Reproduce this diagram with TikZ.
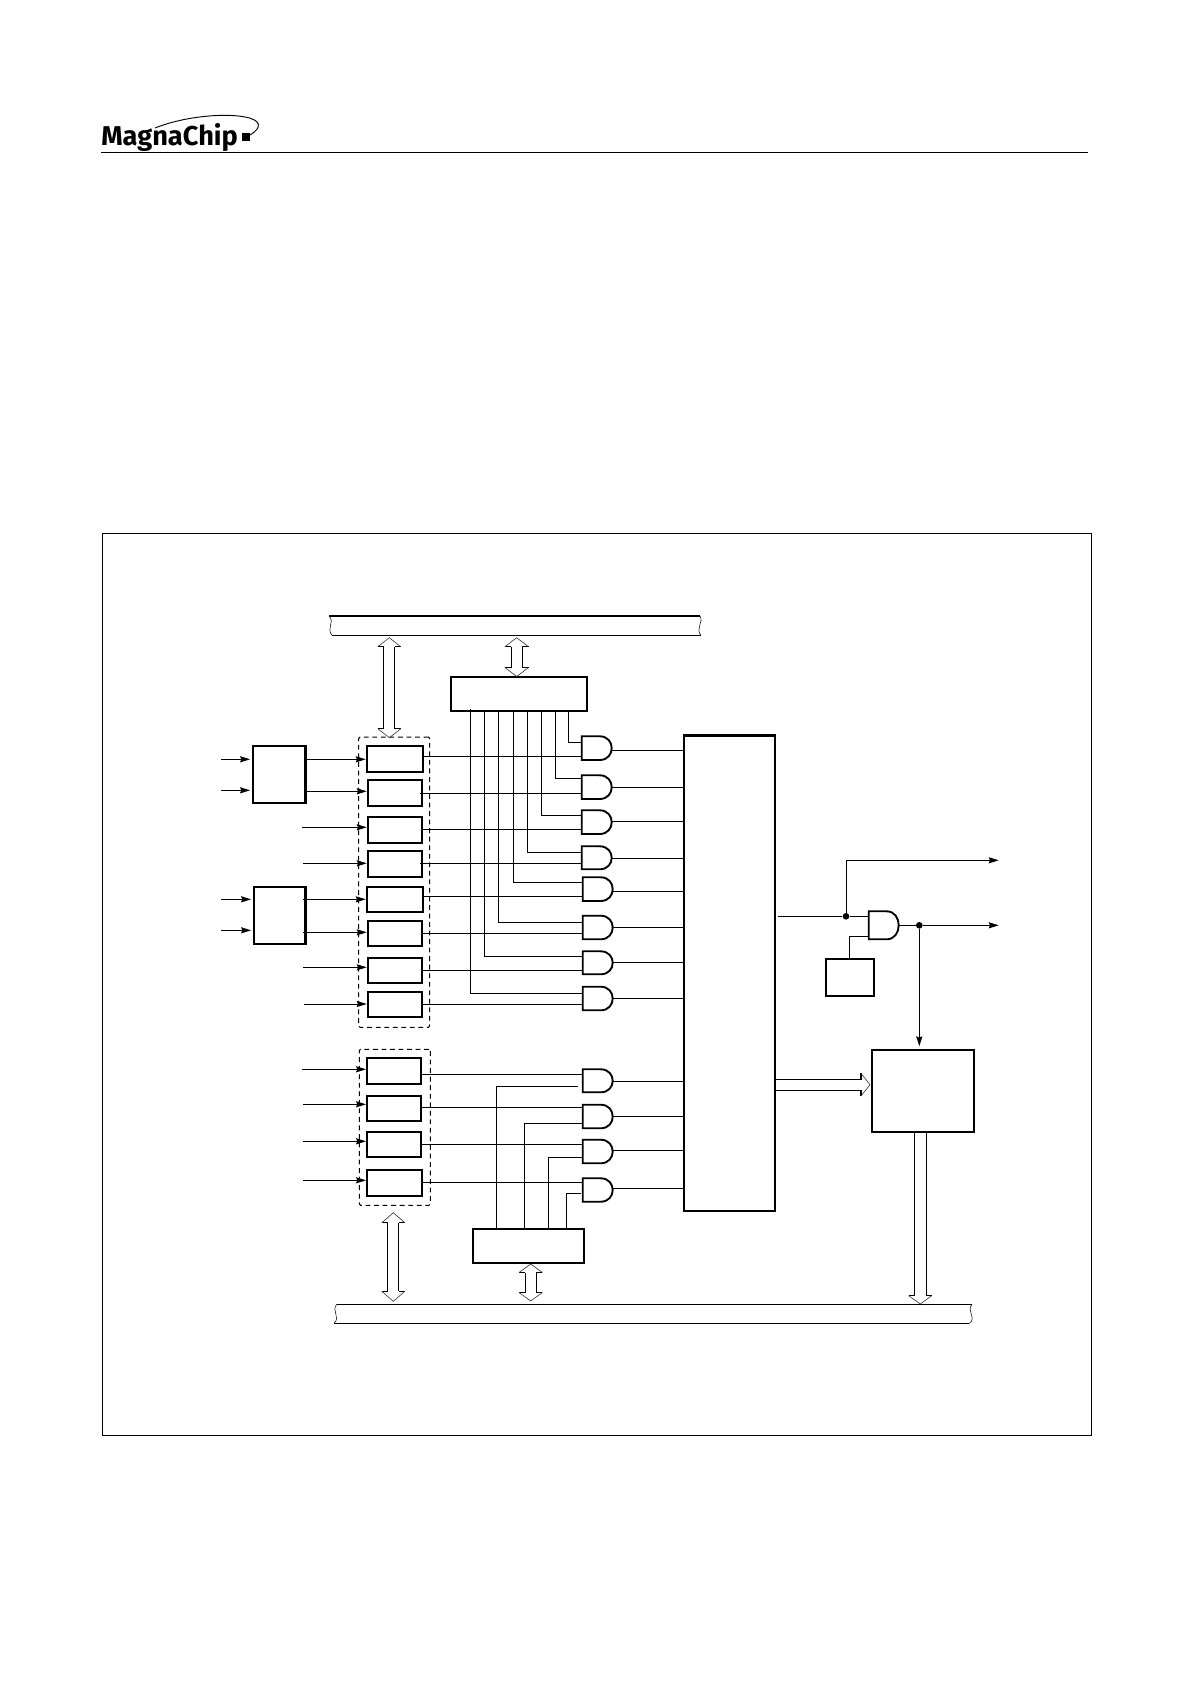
\documentclass[tikz,border=0pt]{standalone}
\usepackage{fontspec}
\setmainfont{Fira Sans}
\usetikzlibrary{arrows.meta,calc}
\tikzset{
  wire/.style={line width=0.75pt,black},
  arr/.style={wire,-{Stealth[length=7.5pt,width=4.6pt,inset=1pt]},shorten >=0.75pt},
  arrlong/.style={arr,shorten >=2pt},
  regbox/.style={draw,line width=1.5pt,inner sep=0pt,outer sep=0pt},
  srcbox/.style={draw,line width=1.8pt,inner sep=0pt,outer sep=0pt},
  gatebody/.style={draw,line width=1.4pt,line join=miter},
  groupbox/.style={draw,line width=0.75pt,dash pattern=on 3.6pt off 2.8pt,rounded corners=1pt,inner sep=0pt,outer sep=0pt},
  busline/.style={line width=0.8pt},
  busend/.style={line width=0.4pt},
  hollowshaft/.style={line width=0.85pt},
  hollowhead/.style={line width=0.45pt,black!80},
  junction/.style={circle,fill=black,inner sep=0pt,minimum size=5pt},
  framebox/.style={draw,line width=0.75pt,inner sep=0pt,outer sep=0pt},
}
% box from its corners, in picture units
\newcommand{\bx}[6]{\pgfmathsetmacro\bxw{(#5-#3)*0.75}\pgfmathsetmacro\bxh{(#6-#4)*0.75}%
  \node[#1,minimum width=\bxw pt,minimum height=\bxh pt,anchor=north west] (#2) at (#3,#4) {};}
% AND gate: name, xleft, ytop, ybottom, y input a, y input b, y output
\newcommand{\gate}[7]{\pgfmathsetmacro\gxm{#2+18}\pgfmathsetmacro\gxc{#2+34}\pgfmathsetmacro\gxr{#2+30}%
  \draw[gatebody] (#2,#3) -- (\gxm,#3) .. controls (\gxc,#3) and (\gxc,#4) .. (\gxm,#4) -- (#2,#4) -- cycle;
  \coordinate (#1a) at (#2,#5);\coordinate (#1b) at (#2,#6);\coordinate (#1o) at (\gxr,#7);}
% hollow vertical double arrow: top tip, bottom tip, head length, shaft half, head half
\newcommand{\hollowdbl}[5]{%
  \draw[hollowshaft] ($(#1)+(-#4,#3)$) -- ($(#2)+(-#4,-#3)$) ($(#1)+(#4,#3)$) -- ($(#2)+(#4,-#3)$)
    ($(#1)+(-#5,#3)$) -- ($(#1)+(-#4,#3)$) ($(#1)+(#5,#3)$) -- ($(#1)+(#4,#3)$)
    ($(#2)+(-#5,-#3)$) -- ($(#2)+(-#4,-#3)$) ($(#2)+(#5,-#3)$) -- ($(#2)+(#4,-#3)$);
  \draw[hollowhead] ($(#1)+(-#5,#3)$) -- (#1) -- ($(#1)+(#5,#3)$)
    ($(#2)+(-#5,-#3)$) -- (#2) -- ($(#2)+(#5,-#3)$);}
\begin{document}
\begin{tikzpicture}[x=0.75pt,y=-0.75pt]
\useasboundingbox (0,0) rectangle (1191,1685);
\fill[white] (0,0) rectangle (1191,1685);

% header
\coordinate (hl) at (101,152.3);
\coordinate (hr) at (1088,152.3);
\draw[line width=0.8pt] (hl) -- (hr);
\node[anchor=base west,inner sep=0pt,font=\fontsize{20.4pt}{21pt}\selectfont\bfseries] (logo) at (101,145.7) {MagnaChip};
\fill (241.7,132.7) rectangle (250,140.7);
\draw[line width=0.7pt] (155,128) .. controls (185,116) and (225,113) .. (245,117) .. controls (262,120) and (262,128) .. (250,135);

% frame
\bx{framebox}{frame}{102}{533}{1091.3}{1435}

% buses
\coordinate (tb1) at (329.3,616); \coordinate (tb2) at (700,616);
\coordinate (tb3) at (332,635.3); \coordinate (tb4) at (701,635.3);
\draw[busline] (tb1) -- (tb2) (tb3) -- (tb4);
\draw[busend] (tb1) .. controls (335,623) and (326,628) .. (tb3);
\draw[busend] (tb2) .. controls (704,622) and (695,629) .. (tb4);
\coordinate (bb1) at (336.7,1304.3); \coordinate (bb2) at (972,1304.3);
\coordinate (bb3) at (334,1323.3); \coordinate (bb4) at (969.3,1323.3);
\draw[busline] (bb1) -- (bb2) (bb3) -- (bb4);
\draw[busend] (bb1) .. controls (331,1311) and (341,1317) .. (bb3);
\draw[busend] (bb2) .. controls (966,1311) and (977,1318) .. (bb4);

% boxes
\bx{srcbox}{srcA}{252.7}{745.7}{305.3}{803}
\bx{srcbox}{srcB}{253.7}{887}{305.3}{944}
\bx{regbox}{tbox}{450.7}{677}{587.3}{711}
\bx{regbox}{bbox}{472.7}{1228.7}{584.3}{1263}
\bx{srcbox}{big}{684}{735.3}{775}{1211}
\bx{regbox}{small}{825.7}{958.7}{874.3}{996}
\bx{regbox}{out}{871.7}{1050}{974}{1132}

\bx{regbox}{r1}{366.7}{745.7}{423.3}{772}
\bx{regbox}{r2}{367.7}{780}{422.3}{806}
\bx{regbox}{r3}{367.7}{817}{422.3}{843}
\bx{regbox}{r4}{367.7}{850.7}{422.3}{876.7}
\bx{regbox}{r5}{366.7}{887}{423.3}{912}
\bx{regbox}{r6}{367.7}{921}{422.3}{946}
\bx{regbox}{r7}{367.7}{958}{422.3}{983}
\bx{regbox}{r8}{367.7}{992}{422.3}{1017}
\bx{regbox}{r9}{367}{1057.7}{421.3}{1084}
\bx{regbox}{r10}{367}{1096}{421.3}{1121}
\bx{regbox}{r11}{367}{1131.7}{421.3}{1157.3}
\bx{regbox}{r12}{367}{1170}{422.3}{1196}

\bx{groupbox}{grp1}{358.7}{737}{429.7}{1027.3}
\bx{groupbox}{grp2}{359.3}{1049.3}{430.3}{1205.3}

% gates
\gate{g1}{581.7}{736.3}{760}{742.3}{756.3}{750.3}
\gate{g2}{581.7}{775.3}{799}{778.3}{793.3}{787.3}
\gate{g3}{581.7}{810.3}{834}{815.3}{829.3}{821.3}
\gate{g4}{581.7}{846.3}{869.3}{852.3}{863.3}{858.3}
\gate{g5}{582.7}{877.3}{901}{882.3}{896.3}{891.3}
\gate{g6}{582.7}{915.7}{939.3}{922.3}{933.3}{927.3}
\gate{g7}{582.7}{951.3}{974.3}{956.3}{970.3}{962.3}
\gate{g8}{582.7}{986.7}{1010.3}{993.3}{1004.3}{998.3}
\gate{g9}{582.7}{1069.3}{1092.3}{1086.3}{1074.3}{1081.3}
\gate{g10}{582.7}{1104.7}{1128.3}{1123.3}{1107.3}{1116.3}
\gate{g11}{582.7}{1139.7}{1163.3}{1157.3}{1144.3}{1150.3}
\gate{g12}{582.7}{1178.3}{1201.7}{1193.3}{1182.3}{1188.3}
\gate{gx}{868.7}{911.3}{939.3}{916.3}{936.3}{925.3}

% source inputs
\foreach \n/\y in {ia1/759.3,ia2/790.3}{\coordinate (\n) at (221,\y); \draw[arrlong] (\n) -- (\n -| srcA.west);}
\foreach \n/\y in {ib1/899.3,ib2/930.3}{\coordinate (\n) at (221,\y); \draw[arrlong] (\n) -- (\n -| srcB.west);}

% source to register
\coordinate (sa1) at (305.3,759.3); \draw[arr] (sa1) -- (sa1 -| r1.west);
\coordinate (sa2) at (305.3,791.3); \draw[arr] (sa2) -- (sa2 -| r2.west);
\coordinate (sb1) at (303,899.3); \draw[arr] (sb1) -- (sb1 -| r5.west);
\coordinate (sb2) at (303,932.3); \draw[arr] (sb2) -- (sb2 -| r6.west);

% free inputs to registers
\coordinate (i3) at (302,827.3); \draw[arr] (i3) -- (i3 -| r3.west);
\coordinate (i4) at (303,863.3); \draw[arr] (i4) -- (i4 -| r4.west);
\coordinate (i7) at (303,967.3); \draw[arr] (i7) -- (i7 -| r7.west);
\coordinate (i8) at (304,1004); \draw[arr] (i8) -- (i8 -| r8.west);
\coordinate (i9) at (302,1069.3); \draw[arr] (i9) -- (i9 -| r9.west);
\coordinate (i10) at (303,1104.3); \draw[arr] (i10) -- (i10 -| r10.west);
\coordinate (i11) at (303,1141.3); \draw[arr] (i11) -- (i11 -| r11.west);
\coordinate (i12) at (303,1180.3); \draw[arr] (i12) -- (i12 -| r12.west);

% registers to gates
\draw[wire] (g1b -| r1.east) -- (g1b);
\coordinate (o2) at (420,793.3); \draw[wire] (o2) -- (g2b);
\draw[wire] (g3b -| r3.east) -- (g3b);
\coordinate (o4) at (420,863.3); \draw[wire] (o4) -- (g4b);
\draw[wire] (g5b -| r5.east) -- (g5b);
\draw[wire] (g6b -| r6.east) -- (g6b);
\draw[wire] (g7b -| r7.east) -- (g7b);
\draw[wire] (g8b -| r8.east) -- (g8b);
\draw[wire] (g9b -| r9.east) -- (g9b);
\draw[wire] (g10b -| r10.east) -- (g10b);
\draw[wire] (g11b -| r11.east) -- (g11b);
\draw[wire] (g12b -| r12.east) -- (g12b);

% top decoder to gates
\foreach \g/\x/\yy in {g1/568.7/711,g2/555.7/711,g3/541.7/711,g4/527.7/711,g5/513.3/710,g6/498.3/710,g7/484.3/710,g8/470.3/709}{
  \coordinate (t\g) at (\x,\yy); \draw[wire] (t\g) |- (\g a);}

% bottom decoder to gates
\coordinate (bg9) at (496.7,1229); \coordinate (e9) at (577.7,1086.3); \draw[wire] (bg9) |- (e9);
\coordinate (bg10) at (524.3,1229); \draw[wire] (bg10) |- (g10a);
\coordinate (bg11) at (548.3,1229); \draw[wire] (bg11) |- (g11a);
\coordinate (bg12) at (566.3,1229); \coordinate (e12) at (581,1193.3); \draw[wire] (bg12) |- (e12);

% gates to big block
\foreach \g in {g1,g2,g3,g4,g5,g6,g7,g8,g9,g10,g11,g12}{\draw[wire] (\g o) -- (\g o -| big.west);}

% output side
\coordinate (bo) at (778,916.3);
\node[junction] (j1) at (846,916.3) {};
\node[junction] (j2) at (919.3,925.3) {};
\coordinate (up) at (998.7,860.3);
\coordinate (rt) at (998.7,925.3);
\coordinate (dn) at (919.3,1046.3);
\draw[wire] (bo) -- (j1) -- (gxa);
\draw[arr,shorten >=0pt] (j1) |- (up);
\draw[wire] (gxo) -- (j2);
\draw[arr,shorten >=0pt] (j2) -- (rt);
\draw[arr,shorten >=0pt] (j2) -- (dn);
\coordinate (sm) at (849.3,958.7);
\draw[wire] (sm) |- (gxb);

% hollow arrows
\coordinate (a1t) at (389.3,637.7); \coordinate (a1b) at (389.3,737.7);
\hollowdbl{a1t}{a1b}{9}{5.6}{11.5}
\coordinate (a2t) at (516.7,637.7); \coordinate (a2b) at (516.7,676.5);
\hollowdbl{a2t}{a2b}{9}{5.4}{11.8}
\coordinate (a3t) at (393.3,1212.7); \coordinate (a3b) at (393.3,1301.3);
\hollowdbl{a3t}{a3b}{10}{5.5}{11.5}
\coordinate (a4t) at (530.7,1264); \coordinate (a4b) at (530.7,1301);
\hollowdbl{a4t}{a4b}{8.5}{5.5}{11.7}

% big block to output block (hollow, right)
\coordinate (hs1) at (775,1079.3); \coordinate (hs2) at (775,1090.3);
\coordinate (hb1) at (861,1079.3); \coordinate (hb2) at (861,1090.3);
\coordinate (hu) at (861,1073.3); \coordinate (hd) at (861,1096); \coordinate (hp) at (870,1084.7);
\draw[hollowshaft] (hs1) -- (hb1) -- (hu) (hs2) -- (hb2) -- (hd);
\draw[hollowhead] (hu) -- (hp) -- (hd);

% output block to lower bus (hollow, down)
\coordinate (ds1) at (914.3,1132); \coordinate (ds2) at (926.3,1132);
\coordinate (db1) at (914.3,1295.7); \coordinate (db2) at (926.3,1295.7);
\coordinate (dl) at (908.7,1295.7); \coordinate (dr) at (931.7,1295.7); \coordinate (dp) at (920.3,1304);
\draw[hollowshaft] (ds1) -- (db1) -- (dl) (ds2) -- (db2) -- (dr);
\draw[hollowhead] (dl) -- (dp) -- (dr);
\end{tikzpicture}
\end{document}
